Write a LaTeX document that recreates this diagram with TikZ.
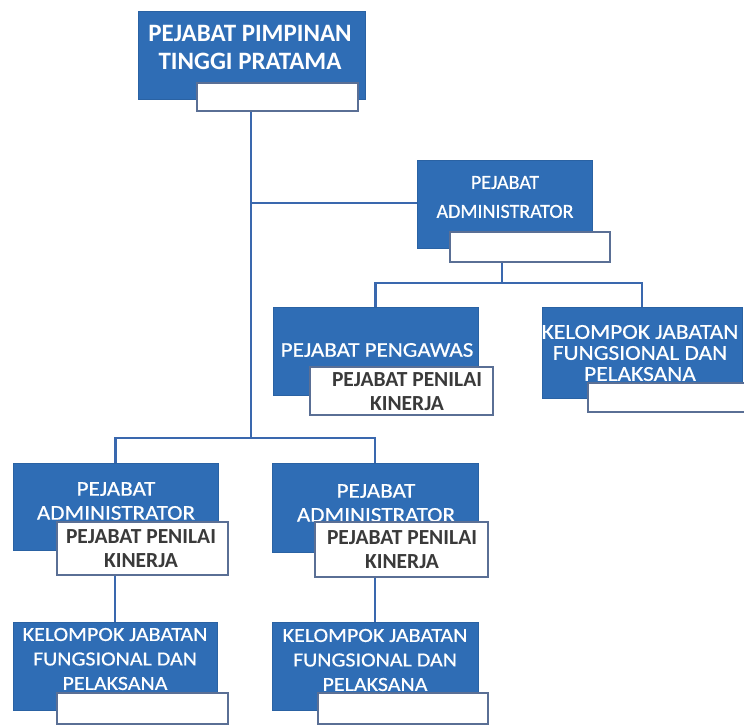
\documentclass[tikz,border=0pt]{standalone}
\usepackage{fontspec}
\setmainfont{Carlito}
\newfontfamily\widefont[FakeStretch=1.1,FakeBold=0.6]{Carlito}
\newfontfamily\semifont[FakeBold=0.6]{Carlito}
\definecolor{boxblue}{HTML}{2F6DB5}
\definecolor{lineblue}{HTML}{3A68AE}
\definecolor{wborder}{HTML}{5A6F95}
\definecolor{penilai}{HTML}{3A3A3A}
\tikzset{
  bluebox/.style={draw=boxblue!90!black, line width=0.6pt, fill=boxblue, inner sep=0pt},
  whitebox/.style={draw=wborder, line width=1.6pt, fill=white, inner sep=0pt},
  bluetxt/.style={text=white, align=center, inner sep=0pt},
  graytxt/.style={text=penilai, align=center, inner sep=0pt, font=\fontsize{21.5}{24}\selectfont\bfseries},
  conn/.style={draw=lineblue, line width=2.8pt}
}
\begin{document}
\begin{tikzpicture}[x=1pt,y=-1pt]
\useasboundingbox (0,0) rectangle (744,725);
% ---------- junctions ----------
\coordinate (j1) at (251,203);
\coordinate (j2) at (251,438);
\coordinate (b1) at (502,283);
% ---------- top ----------
\node[bluebox, minimum width=227pt, minimum height=88pt] (top) at (251.5,55) {};
\node[bluetxt, font=\fontsize{25}{28}\selectfont\bfseries] (toptxt) at (250,47) {PEJABAT PIMPINAN\\TINGGI PRATAMA};
\node[whitebox, minimum width=161pt, minimum height=28pt] (topw) at (277.5,97) {};
% ---------- administrator right ----------
\node[bluebox, minimum width=175pt, minimum height=88pt] (adm1) at (504.5,204) {};
\node[bluetxt, font=\semifont\fontsize{20}{29}\selectfont] (adm1txt) at (505,197) {PEJABAT\\ADMINISTRATOR};
\node[whitebox, minimum width=160pt, minimum height=30pt] (adm1w) at (530,247) {};
% ---------- pengawas ----------
\node[bluebox, minimum width=205pt, minimum height=88pt] (peng) at (375.5,351) {};
\node[bluetxt, font=\widefont\fontsize{21}{24}\selectfont] (pengtxt) at (377,350) {PEJABAT PENGAWAS};
\node[whitebox, minimum width=183pt, minimum height=48pt] (pengw) at (401.5,391) {};
\node[graytxt] (pengwtxt) at (407,392) {PEJABAT PENILAI\\KINERJA};
% ---------- kelompok right ----------
\node[bluebox, minimum width=200pt, minimum height=91pt] (kel1) at (642,352.5) {};
\node[bluetxt, font=\widefont\fontsize{21.3}{21}\selectfont] (kel1txt) at (640,353) {KELOMPOK JABATAN\\FUNGSIONAL DAN\\PELAKSANA};
\node[whitebox, minimum width=158pt, minimum height=29pt] (kel1w) at (667,397.5) {};
% ---------- administrator bottom left ----------
\node[bluebox, minimum width=205pt, minimum height=87pt] (adm2) at (115.5,506.5) {};
\node[bluetxt, font=\widefont\fontsize{21}{24}\selectfont] (adm2txt) at (116,501) {PEJABAT\\ADMINISTRATOR};
\node[whitebox, minimum width=171pt, minimum height=53pt] (adm2w) at (142.5,548.5) {};
\node[graytxt] (adm2wtxt) at (141,549) {PEJABAT PENILAI\\KINERJA};
% ---------- administrator bottom right ----------
\node[bluebox, minimum width=206pt, minimum height=89pt] (adm3) at (375,507.5) {};
\node[bluetxt, font=\widefont\fontsize{21}{24}\selectfont] (adm3txt) at (376,503) {PEJABAT\\ADMINISTRATOR};
\node[whitebox, minimum width=173pt, minimum height=55pt] (adm3w) at (401.5,549.5) {};
\node[graytxt] (adm3wtxt) at (402,550) {PEJABAT PENILAI\\KINERJA};
% ---------- kelompok bottom left ----------
\node[bluebox, minimum width=204pt, minimum height=88pt] (kel2) at (115,666) {};
\node[bluetxt, font=\widefont\fontsize{20}{24.5}\selectfont] (kel2txt) at (115,659) {KELOMPOK JABATAN\\FUNGSIONAL DAN\\PELAKSANA};
\node[whitebox, minimum width=171pt, minimum height=31pt] (kel2w) at (142.5,708.5) {};
% ---------- kelompok bottom right ----------
\node[bluebox, minimum width=206pt, minimum height=88pt] (kel3) at (375,666) {};
\node[bluetxt, font=\widefont\fontsize{20}{24.5}\selectfont] (kel3txt) at (375,660) {KELOMPOK JABATAN\\FUNGSIONAL DAN\\PELAKSANA};
\node[whitebox, minimum width=170pt, minimum height=31pt] (kel3w) at (403,708.5) {};
% ---------- connector lines ----------
\draw[conn] (topw.south -| j1) -- (j2);
\draw[conn] (j1) -- (j1 -| adm1.west);
\draw[conn] (b1 |- adm1w.south) -- (b1);
\draw[conn] (peng.north) |- (b1) -| (kel1.north);
\draw[conn] (adm2.north) |- (j2) -| (adm3.north);
\draw[conn] (kel2.north |- adm2w.south) -- (kel2.north);
\draw[conn] (kel3.north |- adm3w.south) -- (kel3.north);
\end{tikzpicture}
\end{document}
